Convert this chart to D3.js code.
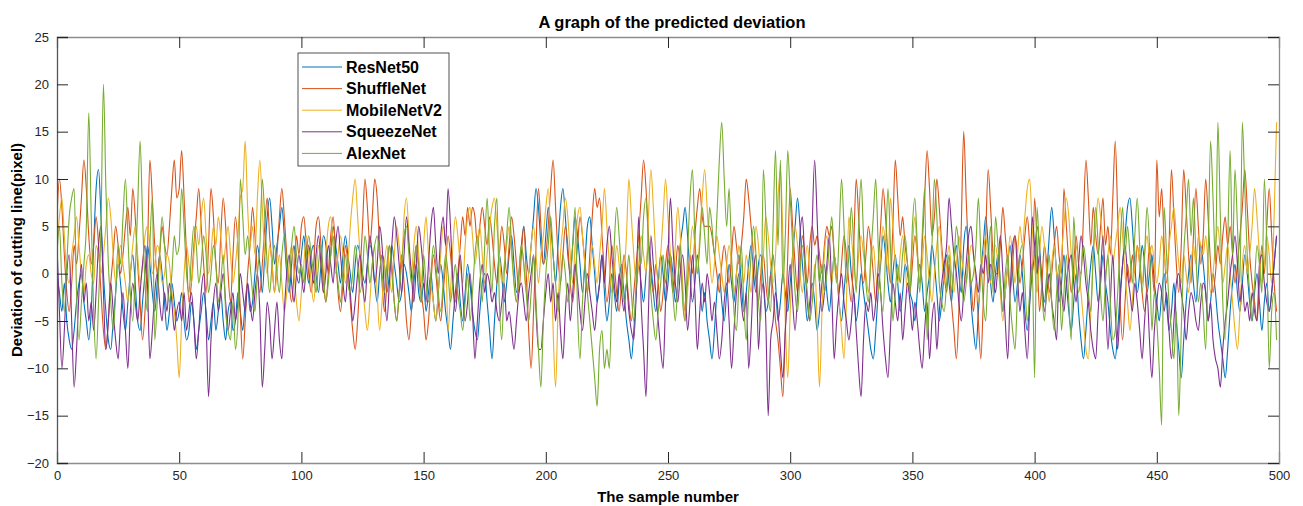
<!DOCTYPE html>
<html>
<head>
<meta charset="utf-8">
<script src="https://cdn.jsdelivr.net/npm/d3@7"></script>
<style>
  body { margin: 0; background: #fff; }
  text { font-family: "Liberation Sans", Arial, sans-serif; }
</style>
</head>
<body>
<svg width="1303" height="506"></svg>
<script>
// values, one array per network (sample 0..499)
const resnet50 = [
  0,-2,-4,-1,-5,-7,-8,-6,-3,-1,0,-3,-5,-7,-4,3,9,11,6,0,-4,-7,-8,-5,-2,1,-1,-4,-6,-3,0,2,-1,-5,-6,-3,0,3,1,-2,-4,-1,2,0,-3,-6,-4,-1,-3,-5,
  -4,-2,-5,-7,-6,-3,-5,-8,-6,-4,-2,-4,-7,-5,-3,-6,-4,-2,-5,-7,-4,-3,-6,-5,-2,-4,-6,-3,-1,-4,-3,0,3,1,-2,2,6,8,5,1,3,5,7,4,0,-2,1,3,0,-1,
  2,4,1,-1,2,3,0,-2,1,4,3,0,2,5,3,1,-1,2,4,2,0,-2,1,3,2,0,-1,1,3,2,-1,-3,0,2,1,-2,0,3,1,-1,-3,-2,1,0,-2,-4,-1,1,-2,-3,
  -1,-4,-2,0,-3,-5,-2,1,-1,-4,-6,-8,-5,-2,0,-3,-5,-2,1,-1,-4,-6,-7,-4,-1,0,-3,-6,-9,-5,-1,2,0,-3,-1,2,4,1,-2,0,3,5,2,0,3,6,9,7,3,1,
  4,7,5,2,-1,3,7,9,6,2,0,3,6,4,1,-2,1,5,6,3,0,-3,-1,2,-2,-5,-3,0,-2,-4,-1,1,-2,-5,-7,-9,-6,-2,1,-1,-3,0,3,1,-2,-4,-1,2,0,-3,
  -1,2,0,-3,-1,3,5,7,4,0,-3,-1,2,-1,-4,-2,-5,-7,-9,-6,-2,0,-3,-5,-2,1,-1,-3,0,2,-1,-4,-2,1,3,0,-2,1,2,-1,-4,-3,0,2,-1,-5,-3,0,-2,-4,
  -1,2,5,8,5,1,-2,-5,-3,-1,-3,-6,-4,-1,1,-2,-4,-1,2,0,-3,-5,-2,1,3,0,-2,-5,-3,0,-2,-4,-6,-8,-9,-6,-2,1,4,2,-1,-3,0,2,-1,-4,-2,1,0,-2,
  -3,-5,-2,1,-1,-4,-2,0,3,1,-2,-5,-3,0,2,-1,-3,1,3,0,-2,3,5,2,-3,-6,-8,-4,0,3,6,3,-1,-3,0,2,-1,-4,-2,1,3,0,-3,-1,2,0,-4,-6,-3,0,
  2,5,3,-1,-3,0,4,7,4,0,-3,-1,2,-1,-4,-6,-3,0,-4,-7,-9,-6,-2,1,3,0,-3,-1,2,-1,-3,-6,-8,-9,-6,-2,1,4,7,8,5,1,-2,0,3,1,-2,0,2,-1,
  -3,-5,-2,0,-3,-6,-4,-1,-5,-8,-11,-7,-3,0,2,-1,-3,0,3,1,-2,-5,-3,0,-2,-5,-7,-9,-11,-8,-4,-1,1,-2,-4,-1,2,0,-3,-5,-2,0,-3,-6,-3,-1,-4,-2,1,4
];
const shufflenet = [
  6,10,7,2,-2,-4,-1,3,1,4,8,12,9,4,1,3,6,3,-2,-6,-8,-5,-1,2,5,3,0,2,5,7,4,9,6,1,-3,-7,-4,2,12,8,3,0,2,5,3,2,5,9,12,8,
  9,13,8,2,-3,-1,3,6,9,5,1,-2,3,9,6,1,-1,4,8,5,0,-3,2,6,3,-4,-9,-5,0,3,7,4,0,-2,1,5,8,4,1,-2,2,6,9,6,2,-1,-3,0,4,2,
  5,6,3,0,-2,1,5,6,3,-1,-3,0,4,6,2,-2,-4,-1,3,1,-3,-6,-8,-5,0,5,10,7,3,6,10,8,3,-1,-4,-1,3,1,-3,-5,-2,2,-1,-5,-7,-4,0,3,1,-2,
  -4,-7,-5,-1,2,0,-3,-5,-2,1,4,2,-1,-3,0,3,6,4,7,5,7,6,3,5,7,5,3,6,4,1,-1,2,5,3,0,3,6,4,1,-2,2,5,0,-6,-10,-4,3,9,5,1,
  2,5,9,12,7,2,-1,2,5,3,-1,-3,0,3,6,4,1,-2,2,6,9,7,8,4,0,-3,-1,3,1,-2,-4,-1,2,0,-3,-5,-2,1,4,8,12,9,4,0,-2,1,-1,-4,-2,1,
  3,1,-2,0,3,1,-2,-4,-1,2,0,4,7,9,6,5,5,5,4,2,0,-2,1,3,1,-1,2,5,3,1,3,6,10,8,5,2,-1,-3,0,2,-1,-3,0,-2,-5,-7,-10,-13,-6,2,
  9,5,1,-2,1,4,2,-1,3,5,3,4,2,0,3,5,4,5,2,0,-2,1,4,2,-1,-3,3,10,6,1,-1,2,5,3,0,-3,1,5,9,6,2,-1,5,12,8,4,6,3,1,-2,
  1,4,2,-1,3,8,13,9,4,6,10,7,3,0,-2,1,-3,-6,-9,-4,5,15,8,2,-1,-4,-1,-5,-9,-3,4,11,7,2,0,0,3,7,4,1,-2,1,4,2,-1,1,4,6,3,-1,
  8,3,-4,-1,3,1,-2,0,3,5,2,0,9,5,1,-2,1,4,1,0,6,12,8,3,7,4,2,5,8,3,5,2,8,14,6,-3,-7,-3,1,-1,2,0,3,1,-2,-4,-1,3,1,-2,
  12,6,9,3,-1,3,11,6,1,-2,3,11,7,2,-1,4,9,5,1,4,10,6,1,-2,0,3,1,4,6,3,5,2,-1,1,4,7,11,7,2,-1,-3,-5,-1,3,0,5,9,4,-1,-4
];
const mobilenetv2 = [
  3,6,8,4,0,-1,2,4,6,3,0,-2,1,2,0,-1,3,2,0,2,5,8,6,2,-1,1,3,1,-1,-3,0,3,5,2,-1,1,4,5,3,0,1,3,2,-1,0,2,1,-2,-4,-7,
  -11,-5,0,3,1,-1,2,5,3,6,8,4,0,2,5,3,6,4,1,3,5,2,-1,1,4,8,9,14,7,3,5,2,8,12,7,2,0,3,1,-2,0,2,-1,-4,-2,1,3,0,-3,-5,
  -2,1,4,2,-1,-3,0,3,1,-2,2,5,6,3,0,2,4,2,-1,1,5,8,10,6,2,-1,-4,-6,-3,1,3,-2,-6,-3,1,3,0,-2,2,5,3,1,6,8,4,0,3,5,2,-1,
  3,6,2,-1,-3,-5,-2,2,5,3,-6,-2,3,6,4,1,-1,3,6,7,4,1,3,5,2,-1,2,5,7,8,5,2,-1,1,3,5,2,-1,-3,0,3,1,-2,0,3,5,2,-1,2,4,
  7,9,3,-6,-12,-4,2,5,8,6,2,-1,3,6,7,4,1,-2,0,3,1,-1,2,5,9,5,1,-2,0,3,1,-2,0,4,10,6,2,-1,1,4,2,0,6,11,7,2,-1,2,6,10,
  6,2,-1,3,7,4,-1,-5,-2,2,5,3,0,4,8,11,7,2,-1,1,4,2,0,-2,1,3,1,-2,0,3,1,-1,2,0,-2,2,5,3,0,2,6,4,1,-1,2,8,11,4,-5,-11,
  -4,2,5,3,0,-2,1,3,0,-3,1,-5,-12,-4,2,4,1,-1,2,0,-3,-6,-9,-3,6,4,1,-1,2,4,2,0,-2,1,3,0,-2,2,5,3,0,8,5,1,-1,2,4,1,-2,0,
  3,6,2,-1,1,4,2,-1,-3,0,3,5,2,-1,1,3,0,-2,1,4,2,0,-1,1,3,2,-1,-3,0,2,4,1,-1,2,3,1,-2,-5,-2,1,4,2,-1,2,5,3,6,9,10,5,
  1,-2,2,5,3,0,-3,1,3,0,-1,2,5,8,6,2,-1,3,1,-2,-5,-8,-9,-4,2,5,8,6,3,0,2,4,1,3,5,7,4,0,-3,-6,-3,1,3,1,-1,2,4,2,3,1,
  -1,1,4,2,0,3,5,7,4,1,-1,2,0,-2,1,3,1,4,3,2,4,1,-2,0,3,5,2,-1,1,3,0,-3,-6,-8,-4,1,3,0,2,5,9,6,2,-1,1,4,2,-1,6,16
];
const squeezenet = [
  3,-4,-10,-6,0,2,-5,-12,-8,-2,1,-3,-1,-5,-3,-6,-2,3,5,-2,-8,-5,-1,-4,-7,-9,-5,-2,-6,-10,-4,-1,-3,-5,-2,1,3,-1,-9,-6,-2,0,-3,-5,-2,-4,-1,-3,-6,-4,
  -3,-5,-2,-6,-4,-2,-5,-9,-6,-2,0,-5,-13,-7,-3,-1,-4,-2,0,-3,-6,-4,-2,-5,-3,0,-2,-4,-1,-3,-5,-2,0,-4,-12,-8,-3,-5,-9,-6,-3,-7,-9,-4,0,2,-1,-3,0,2,
  0,-2,1,3,1,-1,2,4,1,-2,0,3,1,-1,3,5,2,-1,-3,0,-2,-5,-3,0,2,-1,-3,1,4,2,-1,1,5,3,-2,-5,-1,3,6,4,1,-2,2,6,3,0,-3,1,5,3,
  0,-3,1,5,7,3,0,4,6,3,9,5,-1,-4,-1,2,-2,-5,-3,0,-4,-9,-5,-1,1,-2,0,-1,-3,-2,-4,-5,-3,-1,-5,-4,-6,-8,-5,-2,-1,-3,-5,-2,0,2,-4,-8,-8,-5,
  -2,0,-3,-1,-5,-2,-6,-9,-4,-1,-5,-2,1,-1,-4,-6,-3,0,-2,-4,-6,-3,-1,2,-1,3,5,2,-1,-3,0,-2,-4,-1,-4,-6,-7,-2,6,-3,-8,-13,-4,4,1,-2,-5,-8,-10,-3,
  2,8,3,-1,-3,0,2,-1,-6,-3,2,-2,-8,-4,-1,-3,0,-2,-5,-3,-6,-9,-7,-3,-1,-5,-10,-6,-2,0,-3,-5,-2,-10,-6,0,2,-8,-3,-1,-5,-15,-7,-5,-2,-4,-8,-11,-6,-2,
  1,-3,-6,-2,4,6,1,-3,-5,5,12,6,-1,-4,-2,1,4,-2,-9,-5,-2,0,-3,-5,-7,-5,-2,-6,-10,-13,-7,-3,-4,-2,-5,-3,0,-2,-6,-9,-11,-6,-1,-3,-5,-2,-7,-4,-1,-3,
  -6,-3,-5,-8,-10,-6,-3,-9,-5,-3,-8,-4,-1,1,3,8,5,2,0,-3,-5,-2,1,4,5,2,0,-2,1,0,2,-1,1,0,-2,1,4,0,-5,-9,-2,3,4,0,-4,-2,-6,-9,-3,6,
  3,0,2,-1,-4,-2,0,-3,-5,-7,0,-2,-4,-1,1,2,-1,-3,1,4,2,-1,-3,-6,-8,-9,-4,0,4,-2,-8,-3,2,-4,-8,-3,1,3,0,-2,-4,-1,-3,-6,-9,-5,-2,-7,-11,-6,
  -3,-1,-2,-4,-2,-6,-9,-5,-1,0,-2,-4,-7,-4,-2,-3,-5,-6,-3,-1,-2,-5,-3,-7,-9,-10,-12,-8,-5,-3,0,2,4,1,-3,-1,-4,-3,-5,-2,-4,-5,1,2,-1,-3,-4,-2,1,4
];
const alexnet = [
  2,5,-1,-4,1,6,8,9,-2,-7,-3,1,5,17,6,-4,-9,-3,5,20,9,1,-3,-6,-2,3,1,6,10,4,-2,-5,0,7,14,6,-1,-4,3,8,-7,-3,2,6,3,-1,-3,0,4,2,
  3,9,5,0,-2,2,5,3,-1,1,4,2,-2,0,3,1,-3,-1,2,-4,-6,-7,-3,-8,-5,10,6,2,4,1,-2,-4,0,3,10,6,1,-2,1,3,0,-2,2,4,1,-1,3,5,2,0,
  1,-1,2,4,2,0,-2,1,3,0,-3,-1,2,4,1,-1,-3,0,2,-1,-2,0,3,1,-2,0,4,2,-1,1,3,4,2,0,-2,1,3,0,-3,-5,-2,1,4,5,2,-1,1,3,0,-3,
  2,-1,-3,0,3,1,-2,-4,-1,2,0,-3,-1,1,-2,-4,-6,-3,0,-5,-2,2,4,1,-3,3,8,2,-2,5,8,-3,-7,0,4,7,3,-1,-3,0,3,1,-2,-5,-2,2,-3,-8,-12,-5,
  0,3,6,2,-1,-4,-1,2,0,-3,-1,3,7,-4,-9,-3,1,-2,-5,-8,-11,-14,-8,-6,-10,-8,-10,-3,3,7,4,0,-3,-1,2,-2,-5,-1,3,1,6,8,3,-2,-5,-7,-4,-1,2,-1,
  1,2,-2,-5,-1,3,-3,-5,2,8,11,4,0,3,7,4,1,7,5,2,6,12,16,10,5,9,2,-4,-6,-1,3,-3,-7,-2,2,5,2,-3,-5,11,6,-2,-4,5,13,3,12,-1,4,13,
  8,3,-2,-4,0,3,1,-2,-5,-3,0,2,-1,1,-2,0,3,6,2,-1,4,10,5,-1,2,7,3,-2,5,10,4,-1,-3,2,6,10,3,-2,-4,2,9,3,-5,-2,1,-1,2,4,1,-2,
  5,8,3,-2,4,9,-7,-2,3,10,6,-1,-3,-4,-1,2,-2,1,5,3,0,-3,-1,2,-1,0,3,8,2,-3,-5,1,5,-2,6,3,-1,-4,0,2,-3,-6,-8,-2,2,3,-1,-5,-2,1,
  -11,7,2,-2,-5,-1,2,-3,-6,-2,1,-6,-2,2,-3,-7,6,1,-2,0,3,1,-2,-4,2,7,3,-2,-5,-1,2,-3,-7,-6,-2,3,7,2,5,2,-1,4,8,3,-2,2,7,3,-6,-2,
  -5,-10,-16,7,2,-3,-6,-9,-4,-15,-6,2,6,10,4,8,2,-3,-1,-4,-8,2,14,8,1,16,6,-3,-7,3,13,2,11,5,-1,16,9,2,-2,-5,-1,3,1,-2,10,3,-10,-4,-2,-7
];

const names = ["ResNet50", "ShuffleNet", "MobileNetV2", "SqueezeNet", "AlexNet"];
const colors = ["#0072BD", "#D95319", "#EDB120", "#7E2F8E", "#77AC30"];
const xTicks = [0, 50, 100, 150, 200, 250, 300, 350, 400, 450, 500];
const yTicks = [-20, -15, -10, -5, 0, 5, 10, 15, 20, 25];

const series = [resnet50, shufflenet, mobilenetv2, squeezenet, alexnet];

const margin = { left: 57, right: 24, top: 37, bottom: 43 };
const W = 1303, H = 506;
const svg = d3.select("svg");

const x = d3.scaleLinear().domain([0, 500]).range([margin.left, W - margin.right]);
const y = d3.scaleLinear().domain([-20, 25]).range([H - margin.bottom, margin.top]);

svg.append("clipPath").attr("id", "clip")
  .append("rect")
  .attr("x", x(0)).attr("y", y(25))
  .attr("width", x(500) - x(0)).attr("height", y(-20) - y(25));

// the reference traces have rounded peaks, monotone keeps extremes on the samples
const line = d3.line()
  .curve(d3.curveMonotoneX)
  .x(function(d, i) { return x(i); })
  .y(function(d) { return y(d); });

svg.append("g").attr("clip-path", "url(#clip)")
  .selectAll("path")
  .data(series)
  .enter()
  .append("path")
  .attr("d", line)
  .attr("fill", "none")
  .attr("stroke", function(d, i) { return colors[i]; })
  .attr("stroke-width", 1.1);

// axes, MATLAB style: ticks inside, box all round
const tickLen = 11;
const axBottom = svg.append("g")
  .attr("transform", "translate(0," + y(-20) + ")")
  .call(d3.axisBottom(x).tickValues(xTicks).tickSize(-tickLen).tickPadding(8));
const axTop = svg.append("g")
  .attr("transform", "translate(0," + y(25) + ")")
  .call(d3.axisTop(x).tickValues(xTicks).tickSize(-tickLen).tickFormat(""));
const axLeft = svg.append("g")
  .attr("transform", "translate(" + x(0) + ",0)")
  .call(d3.axisLeft(y).tickValues(yTicks).tickSize(-tickLen).tickPadding(8));
const axRight = svg.append("g")
  .attr("transform", "translate(" + x(500) + ",0)")
  .call(d3.axisRight(y).tickValues(yTicks).tickSize(-tickLen).tickFormat(""));

[axBottom, axTop, axLeft, axRight].forEach(function(g) {
  g.select(".domain").attr("stroke", "#8c8c8c").attr("stroke-width", 1.3);
  g.selectAll(".tick line").attr("stroke", "#262626");
  g.selectAll(".tick text").attr("fill", "#262626").style("font-size", "13px")
    .style("font-family", "'Liberation Sans', Arial, sans-serif");
});
axLeft.select(".domain").attr("stroke", "#555");

svg.append("text")
  .attr("x", 672).attr("y", 28)
  .attr("text-anchor", "middle")
  .style("font-size", "16.5px").style("font-weight", "bold")
  .text("A graph of the predicted deviation");

svg.append("text")
  .attr("x", (x(0) + x(500)) / 2).attr("y", 502)
  .attr("text-anchor", "middle")
  .style("font-size", "15px").style("font-weight", "bold")
  .text("The sample number");

svg.append("text")
  .attr("transform", "translate(22," + y(2.5) + ") rotate(-90)")
  .attr("text-anchor", "middle")
  .style("font-size", "15px").style("font-weight", "bold")
  .text("Deviation of cutting line(pixel)");

// legend
const lg = svg.append("g").attr("transform", "translate(298,53)");
lg.append("rect").attr("width", 151).attr("height", 113)
  .attr("fill", "#fff").attr("stroke", "#262626").attr("stroke-width", 0.8);
const items = lg.selectAll("g.item").data(names).enter().append("g")
  .attr("class", "item")
  .attr("transform", function(d, i) { return "translate(0," + (14 + i * 21.6) + ")"; });
items.append("line").attr("x1", 4).attr("x2", 44)
  .attr("stroke", function(d, i) { return colors[i]; }).attr("stroke-width", 1);
items.append("text").attr("x", 48).attr("dy", "0.35em")
  .style("font-size", "16px").style("font-weight", "bold")
  .text(function(d) { return d; });
</script>
</body>
</html>
